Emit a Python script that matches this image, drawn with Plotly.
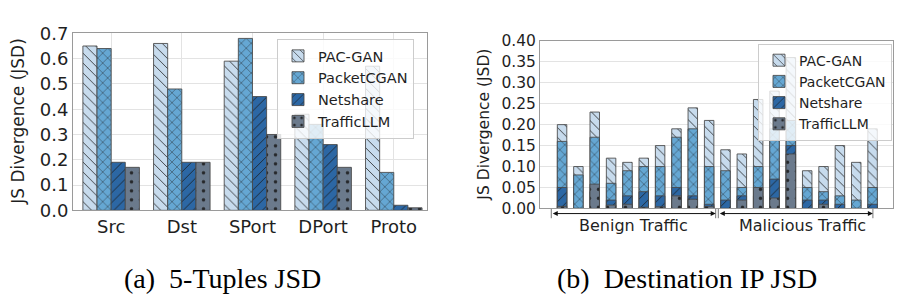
import plotly.graph_objects as go

# ---------------- data ----------------
series = ["PAC-GAN", "PacketCGAN", "Netshare", "TrafficLLM"]

# (a) 5-Tuples JSD
tuple_fields = ["Src", "Dst", "SPort", "DPort", "Proto"]
a_pacgan = [0.65, 0.66, 0.59, 0.38, 0.57]
a_packetcgan = [0.64, 0.48, 0.68, 0.34, 0.15]
a_netshare = [0.19, 0.19, 0.45, 0.26, 0.02]
a_trafficllm = [0.17, 0.19, 0.30, 0.17, 0.01]

# (b) Destination IP JSD (20 destination IPs: 10 benign, 10 malicious)
dst_ips = list(range(20))
b_pacgan = [0.20, 0.10, 0.23, 0.12, 0.11, 0.12, 0.15, 0.19, 0.24, 0.21,
            0.14, 0.13, 0.26, 0.28, 0.36, 0.09, 0.10, 0.15, 0.11, 0.19]
b_packetcgan = [0.16, 0.08, 0.17, 0.06, 0.09, 0.10, 0.10, 0.17, 0.19, 0.10,
                0.09, 0.05, 0.10, 0.19, 0.21, 0.05, 0.04, 0.03, 0.02, 0.05]
b_netshare = [0.05, 0.00, 0.04, 0.02, 0.03, 0.04, 0.03, 0.05, 0.03, 0.01,
              0.02, 0.03, 0.03, 0.07, 0.15, 0.02, 0.02, 0.01, 0.00, 0.01]
b_trafficllm = [0.005, 0.00, 0.058, 0.008, 0.01, 0.003, 0.004, 0.03, 0.022, 0.005,
                0.00, 0.02, 0.05, 0.025, 0.13, 0.00, 0.01, 0.00, 0.00, 0.00]

group_labels = ["Benign Traffic", "Malicious Traffic"]
group_spans = [(-0.66, 9.4), (9.56, 19.02)]   # in destination-IP index units

# ---------------- styles ----------------
fills = ["#c7dbed", "#65a7d3", "#2c67a4", "#6b7a8c"]
shapes_ = ["\\", "x", "/", "."]
sol = [0.13, 0.13, 0.13, 0.12]
psize = [7, 7, 7, 9]

W, H = 915, 306
def px(x):
    return x / W
def py(y):
    return (H - y) / H

X2_L, X2_R = 540, 893
X2_RANGE = [-1.35, 20.25]
def x2_pixel(v):
    return X2_L + (v - X2_RANGE[0]) / (X2_RANGE[1] - X2_RANGE[0]) * (X2_R - X2_L)

fig = go.Figure()

a_vals = [a_pacgan, a_packetcgan, a_netshare, a_trafficllm]
b_vals = [b_pacgan, b_packetcgan, b_netshare, b_trafficllm]

def marker(i):
    return dict(color=fills[i],
                line=dict(color="rgba(70,70,70,0.85)", width=1),
                pattern=dict(shape=shapes_[i], fillmode="overlay",
                             fgcolor="#1a1a1a", fgopacity=0.85,
                             size=psize[i], solidity=sol[i]))

bw = 0.2
for i, name in enumerate(series):
    fig.add_trace(go.Bar(
        x=tuple_fields, y=a_vals[i], name=name, xaxis="x", yaxis="y",
        legend="legend", width=bw, offset=-0.4 + i * bw,
        marker=marker(i),
    ))

for i, name in enumerate(series):
    fig.add_trace(go.Bar(
        x=dst_ips, y=b_vals[i], name=name, xaxis="x2", yaxis="y2",
        legend="legend2", width=0.58, offset=-0.29,
        marker=marker(i),
    ))

line_common = dict(showline=True, linecolor="#9a9a9a", linewidth=1, mirror=True,
                   gridcolor="#e3e3e3", gridwidth=1, zeroline=False)

fig.update_layout(
    width=W, height=H,
    margin=dict(l=0, r=0, t=0, b=0),
    paper_bgcolor="white", plot_bgcolor="white",
    barmode="overlay",
    showlegend=True,
    xaxis=dict(domain=[px(73), px(427)], anchor="y", range=[-0.54, 4.47],
               showgrid=True, ticks="", ticklen=0, **line_common,
               tickfont=dict(family="DejaVu Sans", size=18, color="#1f1f1f")),
    yaxis=dict(domain=[py(214), py(24)], anchor="x", range=[0, 0.7], dtick=0.1,
               tickformat=".1f", showgrid=True, ticks="", **line_common,
               tickfont=dict(family="DejaVu Sans", size=18, color="#1f1f1f")),
    xaxis2=dict(domain=[px(X2_L), px(X2_R)], anchor="y2", range=X2_RANGE,
                showgrid=False, showticklabels=False, ticks="", **line_common),
    yaxis2=dict(domain=[py(212), py(32)], anchor="x2", range=[0, 0.4], dtick=0.05,
                tickformat=".2f", showgrid=True, ticks="", **line_common,
                tickfont=dict(family="DejaVu Sans", size=15.5, color="#1f1f1f")),
    legend=dict(x=px(277), y=py(30), xanchor="left", yanchor="top",
                bgcolor="rgba(255,255,255,0.8)", bordercolor="#cccccc", borderwidth=1,
                font=dict(family="DejaVu Sans", size=14.5, color="#1f1f1f"),
                itemwidth=30, tracegroupgap=0),
    legend2=dict(x=px(758), y=py(35), xanchor="left", yanchor="top",
                 bgcolor="rgba(255,255,255,0.8)", bordercolor="#cccccc", borderwidth=1,
                 font=dict(family="DejaVu Sans", size=14, color="#1f1f1f"),
                 itemwidth=30, tracegroupgap=0),
)

def ann(text, x, y, size, family="DejaVu Sans", xref="paper", angle=0, color="#1f1f1f"):
    return dict(text=text, xref=xref, yref="paper", x=x, y=y, xanchor="center",
                yanchor="middle", textangle=angle, showarrow=False,
                font=dict(family=family, size=size, color=color))

annotations = [
    ann("JS Divergence (JSD)", px(18), py(119), 17, angle=-90),
    ann("JS Divergence (JSD)", px(484), py(122), 15.5, angle=-90),
    ann("(a)\u00a0 5-Tuples JSD", px(222), py(287), 28, family="Liberation Serif", color="black"),
    ann("(b)\u00a0 Destination IP JSD", px(687), py(287), 28, family="Liberation Serif", color="black"),
    ann(group_labels[0], 4.4, py(230), 16, xref="x2"),
    ann(group_labels[1], 14.7, py(230), 16, xref="x2"),
]

shapes = []
ARROW_Y = 217.5
for (x0, x1) in group_spans:
    p0, p1 = x2_pixel(x0), x2_pixel(x1)
    annotations.append(dict(text="", xref="paper", yref="paper", x=px(p1), y=py(ARROW_Y),
                            axref="pixel", ayref="pixel", ax=-(p1 - p0), ay=0,
                            showarrow=True, arrowside="end+start",
                            arrowhead=2, startarrowhead=2, arrowsize=1,
                            startarrowsize=1, arrowwidth=1, arrowcolor="#111111",
                            standoff=0, startstandoff=0))
    for xv in (x0, x1):
        shapes.append(dict(type="line", xref="x2", yref="paper", x0=xv, x1=xv,
                           y0=py(212.5), y1=py(222.5), line=dict(color="#777777", width=1)))

fig.update_layout(annotations=annotations, shapes=shapes)

fig.write_html("out.html")
